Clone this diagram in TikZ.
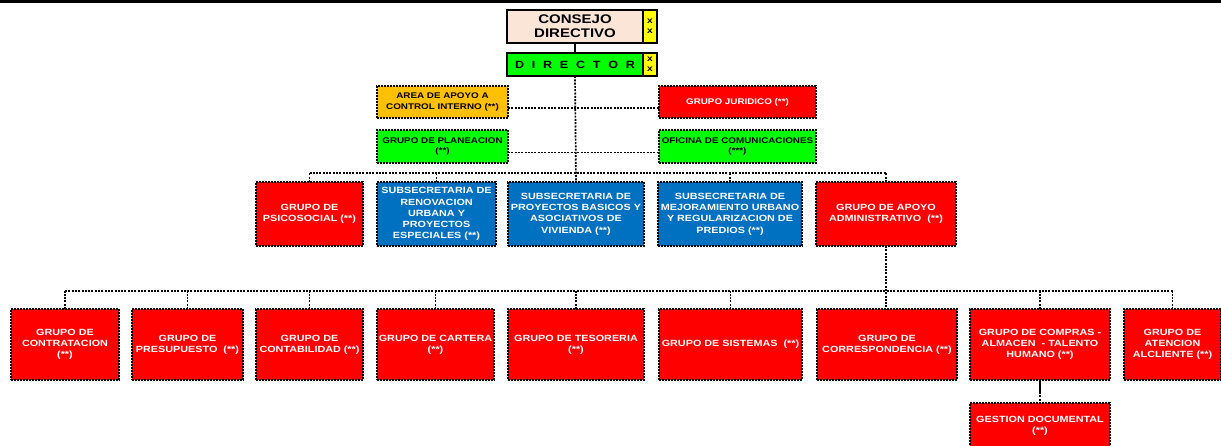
\documentclass[tikz,border=0pt]{standalone}
\usepackage{fontspec}
\setmainfont[FakeStretch=1.2]{Liberation Sans}
\usetikzlibrary{positioning}
\definecolor{orgred}{HTML}{FF0000}
\definecolor{orgblue}{HTML}{0070C0}
\definecolor{orggreen}{HTML}{00FF00}
\definecolor{orgorange}{HTML}{FFC000}
\definecolor{orgpeach}{HTML}{FBE5D6}
\definecolor{orgyellow}{HTML}{FFFF00}

\begin{document}
\begin{tikzpicture}[
    x = 1pt, y = -1pt,
    node distance = 14pt,
    orgbox/.style = {draw, dash pattern=on 1.6pt off 1.4pt, line width=1.6pt, outer sep=0pt,
        inner sep=0pt, align=center, font=\fontsize{9}{11.2}\selectfont\bfseries},
    redbox/.style = {orgbox, fill=orgred, text=white},
    bluebox/.style = {orgbox, fill=orgblue, text=white},
    staffbox/.style = {orgbox, font=\fontsize{8.2}{10.3}\selectfont\bfseries},
    headbox/.style = {draw, line width=2pt, outer sep=0pt, inner sep=0pt, align=center, minimum width=136pt},
    xtag/.style = {draw, line width=1.5pt, outer sep=0pt, fill=orgyellow, inner sep=0pt, minimum width=14pt,
        align=center, font=\fontsize{8.5}{10}\selectfont\bfseries},
    link/.style = {line width=1.7pt, dash pattern=on 2pt off 1.3pt}
]
    \useasboundingbox (0,0) rectangle (1221,445);
    \draw[line width=3pt] (0,1.5) -- (1221,1.5);

    % top
    \node[headbox, fill=orgpeach, minimum height=33pt,
        font=\fontsize{12.5}{14.3}\selectfont\bfseries] (consejo) at (575,26.5) {CONSEJO\\DIRECTIVO};
    \node[xtag, minimum height=33pt, right=0pt of consejo] (consejox) {x\\x};
    \node[headbox, fill=orggreen, minimum height=23pt, below=10pt of consejo,
        font=\fontsize{10.5}{12}\selectfont\bfseries] (director)
        {\makebox[120pt][s]{D\hfill I\hfill R\hfill E\hfill C\hfill T\hfill O\hfill R}};
    \node[xtag, minimum height=23pt, right=0pt of director] (directorx) {x\\x};

    % staff
    \node[staffbox, fill=orgorange, minimum width=131pt, minimum height=32pt] (apoyo) at (442.5,102)
        {AREA DE APOYO A\\CONTROL INTERNO (**)};
    \node[staffbox, fill=orgred, text=white, minimum width=157pt, minimum height=32pt] (juridico) at (737.5,102)
        {GRUPO JURIDICO (**)};
    \node[staffbox, fill=orggreen, minimum width=131pt, minimum height=33pt] (planeacion) at (442.5,146.5)
        {GRUPO DE PLANEACION\\(**)};
    \node[staffbox, fill=orggreen, minimum width=157pt, minimum height=33pt] (comunicaciones) at (737.5,146.5)
        {OFICINA DE COMUNICACIONES\\(***)};

    % level 2
    \node[redbox, minimum width=107pt, minimum height=64pt] (psico) at (309.5,214)
        {GRUPO DE\\PSICOSOCIAL (**)};
    \node[bluebox, minimum width=119pt, minimum height=64pt, right=of psico] (renov)
        {SUBSECRETARIA DE\\RENOVACION\\URBANA Y\\PROYECTOS\\ESPECIALES (**)};
    \node[bluebox, minimum width=136pt, minimum height=64pt, right=12pt of renov] (basicos)
        {SUBSECRETARIA DE\\PROYECTOS BASICOS Y\\ASOCIATIVOS DE\\VIVIENDA (**)};
    \node[bluebox, minimum width=144pt, minimum height=64pt, right=of basicos] (mejora)
        {SUBSECRETARIA DE\\MEJORAMIENTO URBANO\\Y REGULARIZACION DE\\PREDIOS (**)};
    \node[redbox, minimum width=140pt, minimum height=64pt, right=of mejora] (apoyoadm)
        {GRUPO DE APOYO\\ADMINISTRATIVO~~(**)};

    % level 3
    \node[redbox, minimum width=108pt, minimum height=71pt] (c1) at (65,344.5)
        {GRUPO DE\\CONTRATACION\\(**)};
    \node[redbox, minimum width=111pt, minimum height=71pt, right=13pt of c1] (c2)
        {GRUPO DE\\PRESUPUESTO~~(**)};
    \node[redbox, minimum width=107pt, minimum height=71pt, right=13pt of c2] (c3)
        {GRUPO DE\\CONTABILIDAD (**)};
    \node[redbox, minimum width=117pt, minimum height=71pt, right=of c3] (c4)
        {GRUPO DE CARTERA\\(**)};
    \node[redbox, minimum width=136pt, minimum height=71pt, right=of c4] (c5)
        {GRUPO DE TESORERIA\\(**)};
    \node[redbox, minimum width=143pt, minimum height=71pt, right=15pt of c5] (c6)
        {GRUPO DE SISTEMAS~~(**)};
    \node[redbox, minimum width=140pt, minimum height=71pt, right=15pt of c6] (c7)
        {GRUPO DE\\CORRESPONDENCIA (**)};
    \node[redbox, minimum width=140pt, minimum height=71pt, right=13pt of c7] (c8)
        {GRUPO DE COMPRAS -\\ALMACEN~~- TALENTO\\HUMANO (**)};
    \node[redbox, minimum width=97pt, minimum height=71pt, right=of c8] (c9)
        {GRUPO DE\\ATENCION\\ALCLIENTE (**)};
    \node[redbox, minimum width=140pt, minimum height=46pt, below=23pt of c8] (gestion)
        {GESTION DOCUMENTAL\\(**)};

    % connectors
    \draw[line width=1.5pt] (consejo) -- (director);
    \coordinate (hub) at ([yshift=9pt]basicos.north);
    \draw[link] (director.south) -- (basicos.north);
    \draw[link] ([yshift=-6pt]apoyo.east) -- ([yshift=-6pt]juridico.west);
    \draw[link] ([yshift=-6pt]planeacion.east) -- ([yshift=-6pt]comunicaciones.west);
    \draw[link] (psico.north |- hub) -- (apoyoadm.north |- hub);
    \foreach \n in {psico,renov,mejora,apoyoadm}
        \draw[link] (\n.north) -- (\n.north |- hub);

    \coordinate (hub3) at ([yshift=18pt]c7.north);
    \draw[link] (apoyoadm.south) -- (apoyoadm.south |- c7.north);
    \draw[link] (c1.north |- hub3) -- (c9.north |- hub3);
    \foreach \n in {c1,c2,c3,c4,c5,c6,c8,c9}
        \draw[link] (\n.north) -- (\n.north |- hub3);
    \draw[line width=1.5pt] (c8.south) -- ++(0,12) coordinate (gd);
    \draw[link] (gd) -- (gestion.north);
\end{tikzpicture}
\end{document}
